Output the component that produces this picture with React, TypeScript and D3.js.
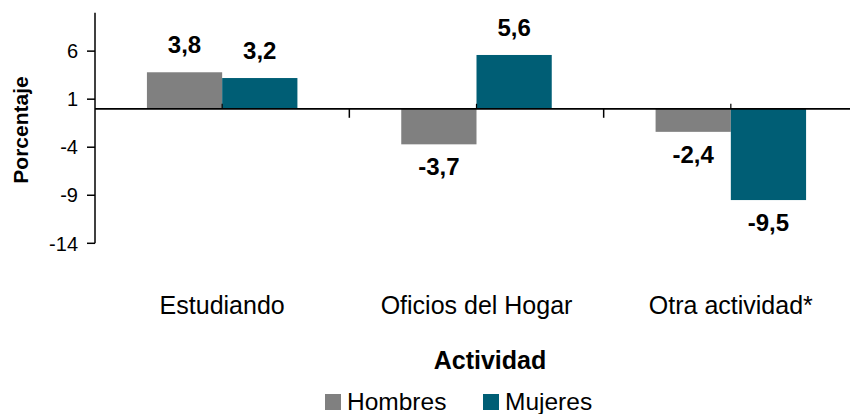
import React from "react";
import * as d3 from "d3";

const categories = ["Estudiando", "Oficios del Hogar", "Otra actividad*"];
const seriesNames = ["Hombres", "Mujeres"];
const hombres = [3.8, -3.7, -2.4];
const mujeres = [3.2, 5.6, -9.5];
const yTicks = [-14, -9, -4, 1, 6];
const colors = ["#808080", "#005E75"];

const W = 850;
const H = 414;
const FONT = "'Liberation Sans', Arial, Helvetica, sans-serif";

export default function App() {
  const y = d3.scaleLinear().domain([-14, 10]).range([243.3, 12.7]);
  const x0 = d3.scaleBand<string>().domain(categories).range([95, 858]).padding(0);
  const x1 = d3
    .scaleBand<string>()
    .domain(seriesNames)
    .range([0, x0.bandwidth()])
    .paddingInner(0)
    .paddingOuter(0.69);
  const values = [hombres, mujeres];
  const fmt = (v: number) => v.toFixed(1).replace(".", ",");
  const y0 = y(0);

  return (
    <svg
      width={W}
      height={H}
      style={{ position: "absolute", left: 0, top: 0, background: "#fff" }}
      fontFamily={FONT}
    >
      <rect x={0} y={0} width={W} height={H} fill="#fff" />
      {/* bars */}
      {categories.map((c, ci) =>
        seriesNames.map((s, si) => {
          const v = values[si][ci];
          const bx = (x0(c) as number) + (x1(s) as number);
          const top = Math.min(y(v), y0);
          const h = Math.abs(y(v) - y0);
          return (
            <rect
              key={c + s}
              x={bx}
              y={top}
              width={x1.bandwidth()}
              height={h}
              fill={colors[si]}
            />
          );
        })
      )}
      {/* value labels */}
      {categories.map((c, ci) =>
        seriesNames.map((s, si) => {
          const v = values[si][ci];
          const cx = (x0(c) as number) + (x1(s) as number) + x1.bandwidth() / 2;
          const ty = v >= 0 ? y(v) - 19 : y(v) + 31;
          return (
            <text
              key={"l" + c + s}
              x={cx}
              y={ty}
              textAnchor="middle"
              fontSize={24}
              fontWeight="bold"
              fill="#000"
            >
              {fmt(v)}
            </text>
          );
        })
      )}
      {/* y axis */}
      <line x1={95} x2={95} y1={y(10)} y2={y(-14)} stroke="#000" strokeWidth={1.5} />
      {yTicks.map((t) => (
        <g key={t}>
          <line x1={87} x2={95} y1={y(t)} y2={y(t)} stroke="#000" strokeWidth={1.5} />
          <text x={78} y={y(t)} dy="0.36em" textAnchor="end" fontSize={20} fill="#000">
            {t}
          </text>
        </g>
      ))}
      {/* zero axis */}
      <line x1={95} x2={W} y1={y0} y2={y0} stroke="#000" strokeWidth={1.8} />
      {categories.map((c, ci) => {
        const bx = (x0(c) as number) + x0.bandwidth();
        const cx = (x0(c) as number) + x0.bandwidth() / 2;
        return (
          <g key={"t" + c}>
            {ci < categories.length - 1 && (
              <line x1={bx} x2={bx} y1={y0} y2={y0 + 9} stroke="#000" strokeWidth={1.5} />
            )}
            <line x1={cx} x2={cx} y1={y0 - 5} y2={y0} stroke="#000" strokeWidth={1.2} />
          </g>
        );
      })}
      {/* category labels */}
      {categories.map((c) => (
        <text
          key={"c" + c}
          x={(x0(c) as number) + x0.bandwidth() / 2}
          y={314}
          textAnchor="middle"
          fontSize={25}
          fill="#000"
        >
          {c}
        </text>
      ))}
      {/* axis titles */}
      <text
        transform="translate(28,130) rotate(-90)"
        textAnchor="middle"
        fontSize={21}
        fontWeight="bold"
        fill="#000"
      >
        Porcentaje
      </text>
      <text x={490} y={369} textAnchor="middle" fontSize={25} fontWeight="bold" fill="#000">
        Actividad
      </text>
      {/* legend */}
      {seriesNames.map((s, i) => {
        const lx = [325, 483][i];
        return (
          <g key={"lg" + s}>
            <rect x={lx} y={394} width={16} height={16} fill={colors[i]} />
            <text x={lx + 22} y={410} fontSize={24.5} fill="#000">
              {s}
            </text>
          </g>
        );
      })}
    </svg>
  );
}
